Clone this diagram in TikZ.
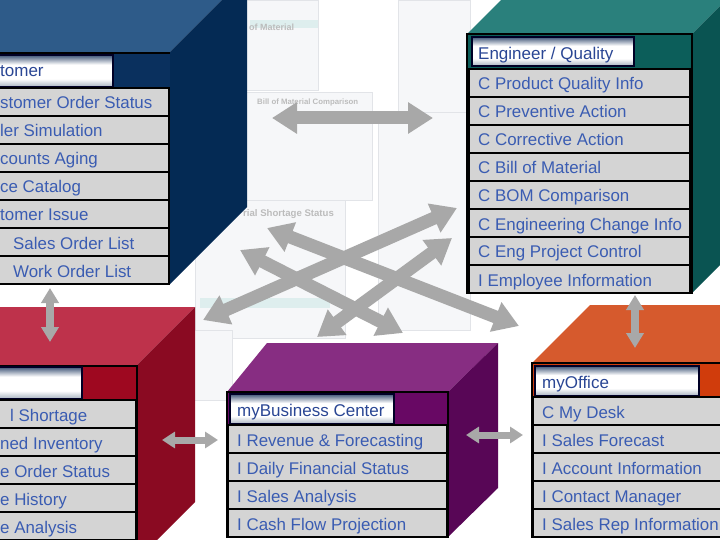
\documentclass[tikz,border=0pt]{standalone}
\usepackage{fontspec}
\setmainfont{Liberation Sans}
\usetikzlibrary{arrows.meta}
\definecolor{custTop}{RGB}{46,91,137}
\definecolor{custSide}{RGB}{4,42,84}
\definecolor{custHead}{RGB}{10,48,94}
\definecolor{engTop}{RGB}{42,128,124}
\definecolor{engSide}{RGB}{10,84,82}
\definecolor{engHead}{RGB}{12,94,90}
\definecolor{redTop}{RGB}{190,50,75}
\definecolor{redSide}{RGB}{138,10,34}
\definecolor{redHead}{RGB}{158,8,32}
\definecolor{purTop}{RGB}{135,45,130}
\definecolor{purSide}{RGB}{88,6,86}
\definecolor{purHead}{RGB}{104,8,100}
\definecolor{oraTop}{RGB}{214,90,45}
\definecolor{oraHead}{RGB}{208,60,12}
\definecolor{rowgray}{RGB}{212,212,212}
\definecolor{itemblue}{RGB}{58,92,178}
\definecolor{titleblue}{RGB}{42,70,148}
\definecolor{arrowgray}{RGB}{168,168,168}
\definecolor{tgtop}{RGB}{62,84,118}
\definecolor{tgbot}{RGB}{165,176,190}
\definecolor{bgfill}{RGB}{246,247,249}
\definecolor{bgline}{RGB}{226,228,232}
\definecolor{bgtext}{RGB}{188,188,188}
\definecolor{bgteal}{RGB}{222,238,238}
\pgfdeclareverticalshading{titlegrad}{100bp}{color(0bp)=(tgbot); color(25bp)=(tgbot); color(38bp)=(white); color(60bp)=(white); color(75bp)=(tgtop); color(100bp)=(tgtop)}
\begin{document}
\begin{tikzpicture}[x=1pt,y=-1pt,
  rowbox/.style={fill=rowgray,draw=black,line width=1.6pt},
  itemtext/.style={anchor=base west,inner sep=0pt,text=itemblue,font=\fontsize{16.9}{20}\selectfont},
  titletext/.style={anchor=base west,inner sep=0pt,text=titleblue,font=\fontsize{17}{20}\selectfont},
  titlebox/.style={shading=titlegrad,draw=black!85!blue,line width=1.4pt},
  faceline/.style={draw=black,line width=1.6pt},
  bgpanel/.style={fill=bgfill,draw=bgline,line width=0.8pt},
  bgtitle/.style={anchor=base west,inner sep=0pt,text=bgtext,font=\bfseries\fontsize{9}{10}\selectfont},
  bigarrow/.style={draw=arrowgray,line width=13pt,{Triangle[width=30pt,length=25pt]}-{Triangle[width=30pt,length=25pt]}},
  midarrow/.style={draw=arrowgray,line width=7pt,{Triangle[width=16pt,length=13pt]}-{Triangle[width=16pt,length=13pt]}},
  vertarrow/.style={draw=arrowgray,line width=8pt,{Triangle[width=17pt,length=15pt]}-{Triangle[width=17pt,length=15pt]}}
]
\useasboundingbox (0,0) rectangle (720,540);
\clip (0,0) rectangle (720,540);
\fill[white] (0,0) rectangle (720,540);

% faint background screens
\draw[bgpanel] (236,0) rectangle (318,90);
\draw[bgpanel] (398,0) rectangle (470,112);
\draw[bgpanel] (245,92) rectangle (372,200);
\draw[bgpanel] (378,112) rectangle (470,330);
\draw[bgpanel] (195,200) rectangle (345,338);
\draw[bgpanel] (150,330) rectangle (232,400);
\fill[bgteal] (200,298) rectangle (330,308);
\fill[bgteal] (250,20) rectangle (318,28);
\node[bgtitle] (bgA) at (249,31) {of Material};
\node[bgtitle,font=\bfseries\fontsize{7.8}{9}\selectfont] (bgB) at (257,105) {Bill of Material Comparison};
\node[bgtitle,font=\bfseries\fontsize{9.6}{11}\selectfont] (bgC) at (243,217) {rial Shortage Status};

% ===== Customer cube (blue) =====
\fill[custTop] (-100,52) -- (170,52) -- (247,-25) -- (-23,-25) -- cycle;
\fill[custSide] (170,52) -- (247,-25) -- (247,207) -- (170,284) -- cycle;
\fill[custHead] (-100,52) rectangle (170,284);
\draw[faceline] (-100,53) -- (170,53);
\draw[titlebox] (-100,55) rectangle (113,87);
\node[titletext] (custT) at (0,77) {tomer};
\foreach \xx/\t [count=\i] in {0/stomer Order Status,0/ler Simulation,0/counts Aging,0/ce Catalog,0/tomer Issue,13/Sales Order List,13/Work Order List} {
  \draw[rowbox] (-100,{88+28*(\i-1)}) rectangle (169,{116+28*(\i-1)});
  \node[itemtext] (cust\i) at (\xx,{109+28*(\i-1)}) {\t};
}

% ===== Engineer / Quality cube (teal) =====
\fill[engTop] (467,34) -- (692,34) -- (752,-26) -- (527,-26) -- cycle;
\fill[engSide] (692,34) -- (752,-26) -- (752,233) -- (692,293) -- cycle;
\fill[engHead] (467,34) rectangle (692,293);
\draw[faceline] (467,34) rectangle (692,293);
\draw[titlebox] (472,37) rectangle (634,66);
\node[titletext] (engT) at (478,60) {Engineer / Quality};
\foreach \t [count=\i] in {C Product Quality Info,C Preventive Action,C Corrective Action,C Bill of Material,C BOM Comparison,C Engineering Change Info,C Eng Project Control,I Employee Information} {
  \draw[rowbox] (469,{69+28*(\i-1)}) rectangle (690,{97+28*(\i-1)});
  \node[itemtext] (eng\i) at (478,{90+28*(\i-1)}) {\t};
}

% ===== Red cube =====
\fill[redTop] (-100,365) -- (137,365) -- (195,307) -- (-42,307) -- cycle;
\fill[redSide] (137,365) -- (195,307) -- (195,502) -- (137,560) -- cycle;
\fill[redHead] (-100,365) rectangle (137,560);
\draw[faceline] (-100,366) -- (137,366) -- (137,560);
\draw[titlebox] (-100,367) rectangle (82,399);
\foreach \xx/\t [count=\i] in {10/l Shortage,0/ned Inventory,0/e Order Status,0/e History,0/e Analysis} {
  \draw[rowbox] (-100,{400+28*(\i-1)}) rectangle (136,{428+28*(\i-1)});
  \node[itemtext] (red\i) at (\xx,{421+28*(\i-1)}) {\t};
}

% ===== myBusiness Center cube (purple) =====
\fill[purTop] (227,392) -- (448,392) -- (498,343) -- (267,343) -- cycle;
\fill[purSide] (448,392) -- (498,343) -- (498,488) -- (448,537) -- cycle;
\fill[purHead] (227,392) rectangle (448,537);
\draw[faceline] (227,392) rectangle (448,537);
\draw[titlebox] (230,394) rectangle (394,424);
\node[titletext] (purT) at (237,416) {myBusiness Center};
\foreach \t [count=\i] in {I Revenue \& Forecasting,I Daily Financial Status,I Sales Analysis,I Cash Flow Projection} {
  \draw[rowbox] (228,{425+28*(\i-1)}) rectangle (447,{453+28*(\i-1)});
  \node[itemtext] (pur\i) at (237,{446+28*(\i-1)}) {\t};
}

% ===== myOffice cube (orange) =====
\fill[oraTop] (532,363) -- (780,363) -- (838,305) -- (590,305) -- cycle;
\fill[oraHead] (532,363) rectangle (780,537);
\draw[faceline] (532,363) rectangle (780,537);
\draw[titlebox] (535,366) rectangle (699,396);
\node[titletext] (oraT) at (542,388) {myOffice};
\foreach \t [count=\i] in {C My Desk,I Sales Forecast,I Account Information,I Contact Manager,I Sales Rep Information} {
  \draw[rowbox] (533,{397+28*(\i-1)}) rectangle (780,{425+28*(\i-1)});
  \node[itemtext] (ora\i) at (542,{418+28*(\i-1)}) {\t};
}

% ===== connectors =====
\coordinate (a1s) at (272,118); \coordinate (a1e) at (433,118);
\coordinate (a2s) at (50,288);  \coordinate (a2e) at (50,342);
\coordinate (a3s) at (635,295); \coordinate (a3e) at (635,348);
\coordinate (a4s) at (162,440); \coordinate (a4e) at (218,440);
\coordinate (a5s) at (466,435); \coordinate (a5e) at (523,435);
\coordinate (dAs) at (203,320); \coordinate (dAe) at (457,208);
\coordinate (dBs) at (317,337); \coordinate (dBe) at (452,238);
\coordinate (dCs) at (267,228); \coordinate (dCe) at (519,326);
\coordinate (dDs) at (240,250); \coordinate (dDe) at (403,333);

\draw[bigarrow] (a1s) -- (a1e);
\draw[bigarrow] (dAs) -- (dAe);
\draw[bigarrow] (dBs) -- (dBe);
\draw[bigarrow] (dCs) -- (dCe);
\draw[bigarrow] (dDs) -- (dDe);
\draw[vertarrow] (a2s) -- (a2e);
\draw[vertarrow] (a3s) -- (a3e);
\draw[midarrow] (a4s) -- (a4e);
\draw[midarrow] (a5s) -- (a5e);
\end{tikzpicture}
\end{document}
